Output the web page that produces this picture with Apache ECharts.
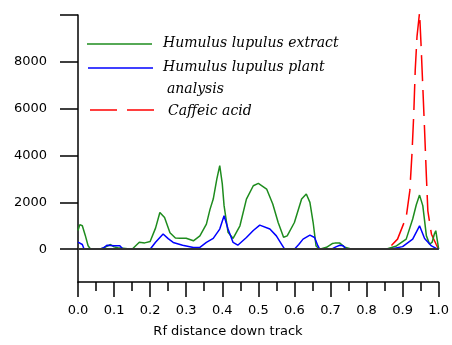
<!DOCTYPE html>
<html>
<head>
<meta charset="utf-8">
<script src="https://cdn.jsdelivr.net/npm/echarts@6/dist/echarts.min.js"></script>
<style>html,body{margin:0;padding:0;background:#fff;}#c{width:452px;height:345px;}</style>
</head>
<body>
<div id="c"></div>
<script>
// ---- data ----
const extractX = [0, 0.005, 0.012, 0.02, 0.028, 0.035, 0.06, 0.07, 0.08, 0.09, 0.1, 0.11, 0.125, 0.13, 0.15, 0.16, 0.17, 0.185, 0.2, 0.215, 0.227, 0.24, 0.255, 0.27, 0.283, 0.3, 0.32, 0.338, 0.356, 0.366, 0.375, 0.385, 0.393, 0.4, 0.405, 0.416, 0.43, 0.449, 0.467, 0.486, 0.5, 0.523, 0.54, 0.555, 0.57, 0.58, 0.6, 0.62, 0.633, 0.643, 0.652, 0.66, 0.67, 0.689, 0.705, 0.712, 0.726, 0.74, 0.745, 0.76, 0.85, 0.858, 0.883, 0.91, 0.928, 0.938, 0.947, 0.956, 0.966, 0.975, 0.982, 0.988, 0.992, 0.996, 1.0];
const extractY = [800, 1050, 1000, 600, 150, 0, 0, 50, 120, 200, 100, 60, 40, 0, 0, 150, 300, 270, 330, 900, 1570, 1350, 700, 480, 470, 470, 360, 570, 1070, 1700, 2140, 3000, 3570, 2800, 1860, 720, 460, 1000, 2140, 2710, 2810, 2570, 1930, 1140, 510, 570, 1140, 2140, 2360, 2000, 1140, 140, 0, 80, 240, 260, 260, 80, 0, 0, 0, 20, 140, 430, 1290, 1900, 2310, 1860, 570, 210, 300, 650, 790, 400, 0];

const plantX = [0, 0.005, 0.012, 0.017, 0.06, 0.07, 0.08, 0.1, 0.116, 0.125, 0.2, 0.215, 0.236, 0.25, 0.264, 0.29, 0.32, 0.338, 0.356, 0.375, 0.393, 0.405, 0.416, 0.43, 0.443, 0.467, 0.486, 0.504, 0.532, 0.55, 0.565, 0.573, 0.6, 0.612, 0.624, 0.643, 0.656, 0.665, 0.67, 0.703, 0.715, 0.726, 0.735, 0.744, 0.864, 0.9, 0.928, 0.947, 0.961, 0.98, 0.997, 1.0];
const plantY = [300, 320, 200, 0, 0, 50, 170, 150, 150, 0, 0, 300, 650, 450, 290, 170, 70, 80, 290, 460, 860, 1430, 860, 290, 170, 500, 800, 1030, 860, 570, 200, 0, 0, 200, 430, 600, 500, 150, 0, 0, 100, 170, 150, 0, 0, 110, 430, 1000, 460, 140, 0, 0];

const caffeicX = [0, 0.859, 0.886, 0.91, 0.92, 0.926, 0.931, 0.935, 0.94, 0.947, 0.951, 0.956, 0.961, 0.966, 0.97, 0.98, 0.993, 1.0];
const caffeicY = [0, 0, 430, 1370, 2490, 4070, 5790, 7640, 9090, 10100, 8790, 6940, 5070, 3090, 1640, 640, 210, 0];

const seriesNames = ['Humulus lupulus extract', 'Humulus lupulus plant analysis', 'Caffeic acid'];
const yTickValues = [0, 2000, 4000, 6000, 8000, 10000];
const yLabelValues = [0, 2000, 4000, 6000, 8000];
const xTickLabels = ['0.0','0.1','0.2','0.3','0.4','0.5','0.6','0.7','0.8','0.9','1.0'];
const xAxisTitle = 'Rf distance down track';

const zip = (xs, ys) => xs.map((x, i) => [x, ys[i]]);

const chart = echarts.init(document.getElementById('c'), null, {renderer: 'canvas'});
const axisFont = {fontFamily: 'DejaVu Sans', fontSize: 13, color: '#000'};
const legendFont = 'italic 14px "DejaVu Serif"';

chart.setOption({
  animation: false,
  backgroundColor: '#fff',
  grid: {left: 78, right: 13, top: 15, bottom: 63},
  xAxis: {
    type: 'value', min: 0, max: 1, interval: 0.1,
    axisLine: {onZero: false, lineStyle: {color: '#000', width: 1.5}},
    axisTick: {show: true, length: 15, lineStyle: {color: '#000', width: 1.5}},
    minorTick: {show: true, splitNumber: 2, length: 9, lineStyle: {color: '#000', width: 1.5}},
    axisLabel: Object.assign({margin: 22, formatter: (v) => xTickLabels[Math.round(v * 10)]}, axisFont),
    splitLine: {show: false}
  },
  yAxis: {
    type: 'value', min: -1400, max: 10000,
    axisLine: {show: true, lineStyle: {color: '#000', width: 1.5}},
    axisTick: {show: true, customValues: yTickValues, length: 18, lineStyle: {color: '#000', width: 1.5}},
    axisLabel: Object.assign({customValues: yLabelValues, margin: 31, formatter: (v) => String(v)}, axisFont),
    splitLine: {show: false}
  },
  series: [
    {
      name: seriesNames[2], type: 'line', data: zip(caffeicX, caffeicY), showSymbol: false, symbol: 'none', clip: false, z: 1,
      lineStyle: {color: '#ff0000', width: 1.5, type: [26, 9]}
    },
    {
      name: seriesNames[0], type: 'line', data: zip(extractX, extractY), showSymbol: false, symbol: 'none', z: 3,
      lineStyle: {color: '#1e8c1e', width: 1.5}
    },
    {
      name: seriesNames[1], type: 'line', data: zip(plantX, plantY), showSymbol: false, symbol: 'none', z: 4,
      lineStyle: {color: '#0000ff', width: 1.5},
      markLine: {silent: true, symbol: 'none', label: {show: false},
        lineStyle: {color: '#333', width: 2, type: 'solid'},
        data: [{yAxis: 0}]}
    }
  ],
  graphic: [
    {type: 'line', shape: {x1: 87, y1: 44, x2: 152, y2: 44}, style: {stroke: '#1e8c1e', lineWidth: 1.5}},
    {type: 'text', left: 163, top: 36, style: {text: 'Humulus lupulus extract', font: legendFont, fill: '#000'}},
    {type: 'line', shape: {x1: 88, y1: 68, x2: 153, y2: 68}, style: {stroke: '#0000ff', lineWidth: 1.5}},
    {type: 'text', left: 163, top: 60, style: {text: 'Humulus lupulus plant', font: legendFont, fill: '#000'}},
    {type: 'text', left: 167, top: 82, style: {text: 'analysis', font: legendFont, fill: '#000'}},
    {type: 'line', shape: {x1: 90, y1: 110, x2: 155, y2: 110}, style: {stroke: '#ff0000', lineWidth: 1.5, lineDash: [27, 10]}},
    {type: 'text', left: 168, top: 104, style: {text: 'Caffeic acid', font: legendFont, fill: '#000'}},
    {type: 'text', x: 228, y: 332, style: {text: xAxisTitle, font: '13px "DejaVu Sans"', fill: '#000', align: 'center', verticalAlign: 'middle'}}
  ]
});
</script>
</body>
</html>
